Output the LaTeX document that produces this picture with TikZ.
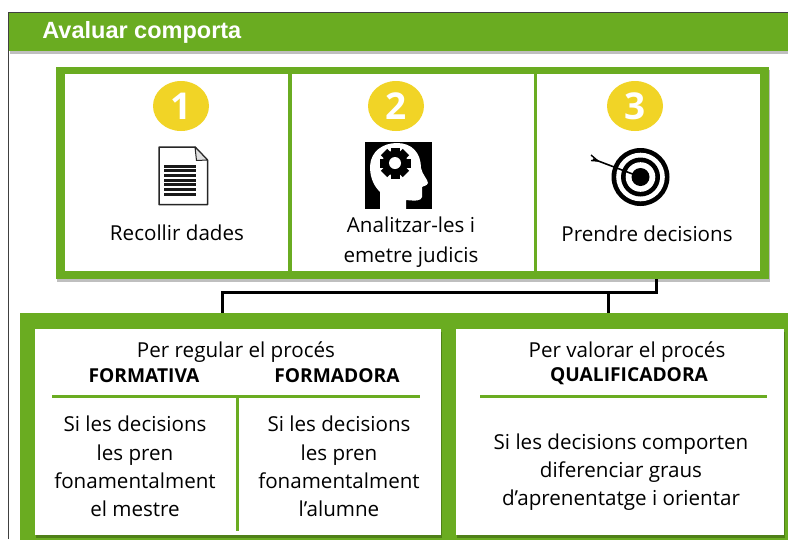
\documentclass[tikz,border=0pt]{standalone}
\usepackage{fontspec}
\setmainfont{Open Sans}
\newfontfamily\headfont{Liberation Sans}
\usetikzlibrary{shadows,shapes.geometric}
\definecolor{avalgreen}{RGB}{106,172,33}
\definecolor{numyellow}{RGB}{241,212,38}

\begin{document}
\begin{tikzpicture}[x=1pt,y=-1pt,thick,
  soft shadow/.style={drop shadow={shadow xshift=1pt,shadow yshift=-2.5pt,opacity=.25,fill=black}},
  green node/.style={rectangle,fill=avalgreen,inner sep=0pt,soft shadow},
  cell node/.style={rectangle,fill=white,inner sep=0pt},
  num node/.style={ellipse,fill=numyellow,minimum width=56pt,minimum height=50pt,inner sep=0pt,
    text=white,font=\fontsize{37}{37}\selectfont\bfseries},
  text node/.style={align=center,inner sep=0pt,font=\fontsize{20.6}{28.3}\selectfont},
  bold node/.style={inner sep=0pt,font=\fontsize{19.2}{24}\selectfont\bfseries},
  link/.style={line width=3pt,black,line join=miter},
  rule/.style={line width=3pt,avalgreen}]
  \clip (0,0) rectangle (788,539);
  \fill[white] (0,0) rectangle (788,539);

  % frame and title
  \draw[line width=1pt,black!75] (8.5,539) |- (788,12.5);
  \node[green node,minimum width=790pt,minimum height=38pt,anchor=north west] (title) at (9,13) {};
  \node[anchor=west,inner sep=0pt,text=white,font=\headfont\fontsize{23.5}{23.5}\selectfont\bfseries]
    (titletext) at (42,32) {Avaluar comporta};

  % top panel
  \node[green node,minimum width=713pt,minimum height=212pt,anchor=north west] (toppanel) at (56,67) {};
  \node[cell node,minimum width=223pt,minimum height=197pt,anchor=north west] (recollir) at (65,74) {};
  \node[cell node,minimum width=242pt,minimum height=197pt,anchor=north west] (analitzar) at (291.5,74) {};
  \node[cell node,minimum width=223pt,minimum height=197pt,anchor=north west] (prendre) at (536.5,74) {};

  \node[num node] (n1) at (181,106) {\raisebox{-1pt}{\hspace{1pt}1}};
  \node[num node] (n2) at (396,106) {\raisebox{-1pt}{\hspace{1pt}2}};
  \node[num node] (n3) at (635,106) {\raisebox{-1pt}{\hspace{1pt}3}};

  \node[text node] (t1) at (177,233) {Recollir dades};
  \node[text node] (t2) at (411,242.5) {Analitzar-les i\\[1.7pt]emetre judicis};
  \node[text node] (t3) at (647,234) {Prendre decisions};

  % document icon
  \draw[line width=1.5pt,black!85,fill=white,line join=round]
    (159,147) -- (195,147) -- (207.5,160) -- (207.5,204.5) -- (159,204.5) -- cycle;
  \draw[line width=1pt,black!85,fill=black!12,line join=round] (195,147) -- (196.5,160.5) -- (207.5,160) -- cycle;
  \foreach \y in {166,170.7,175.4,180.1,184.8,189.5,194.2}
    \draw[line width=3pt,black!90] (164,\y) -- (196,\y);

  % head icon
  \fill[black] (365,142) rectangle (432,209);
  \fill[white] (380,209) -- (380,192) .. controls (372,184) and (370,175) .. (370,166)
    .. controls (371,151) and (383,143) .. (397,143)
    .. controls (412,143) and (421,153) .. (421,168)
    .. controls (422,174) and (428,180) .. (428,183)
    .. controls (427,186) and (423,186) .. (422,187)
    -- (422,197) .. controls (421,201) and (416,201) .. (406,200) -- (406,209) -- cycle;
  \foreach \a in {0,45,...,315}
    \fill[black,rotate around={\a:(395,163)}] (390.5,147.5) rectangle (399.5,155);
  \fill[black] (395,163) circle (12.5);
  \fill[white] (395,163) circle (6);

  % target icon
  \fill[black] (640.5,177) circle (29);
  \fill[white] (640.5,177) circle (24.3);
  \fill[black] (640.5,177) circle (19.5);
  \fill[white] (640.5,177) circle (14.8);
  \fill[black] (640.5,177) circle (9);
  \draw[line width=1.6pt,black] (593,159) -- (640.5,177);
  \draw[line width=1.4pt,black] (591,155) -- (598,161) (591,160.5) -- (598,161);

  % connector
  \coordinate (cstart) at (656,279);
  \coordinate (cmid) at (608,292);
  \coordinate (cleft) at (222.5,313);
  \coordinate (cright) at (608,313);

  \draw[link] (cstart) |- (cmid) -| (cleft);
  \draw[link] (cmid) -- (cright);

  % bottom panel
  \node[green node,minimum width=780pt,minimum height=240pt,anchor=north west] (bottompanel) at (20,313) {};
  \node[cell node,minimum width=405.5pt,minimum height=206pt,anchor=north west,soft shadow] (regular) at (35,329) {};
  \node[cell node,minimum width=327.5pt,minimum height=206pt,anchor=north west,soft shadow] (valorar) at (456,329) {};

  \node[text node] (perreg) at (236,352.5) {Per regular el procés};
  \node[bold node] (formativa) at (144,376) {FORMATIVA};
  \node[bold node] (formadora) at (337,376) {FORMADORA};
  \coordinate (ruleleft) at (52,396.5);
  \coordinate (ruleright) at (420,396.5);
  \coordinate (ruletop) at (237,396.5);
  \coordinate (rulebot) at (237,531);
  \draw[rule] (ruleleft) -- (ruleright);
  \draw[rule] (ruletop) -- (rulebot);
  \node[text node] (formtext) at (135,466.5) {Si les decisions\\les pren\\fonamentalment\\el mestre};
  \node[text node] (fordtext) at (339,466.5) {Si les decisions\\les pren\\fonamentalment\\l’alumne};

  \node[text node] (perval) at (627,352) {Per valorar el procés};
  \node[bold node] (qualif) at (629,376) {QUALIFICADORA};
  \coordinate (rule2left) at (480,396);
  \coordinate (rule2right) at (767,396);
  \draw[rule] (rule2left) -- (rule2right);
  \node[text node] (qualtext) at (621,472) {Si les decisions comporten\\diferenciar graus\\d’aprenentatge i orientar};
\end{tikzpicture}
\end{document}
